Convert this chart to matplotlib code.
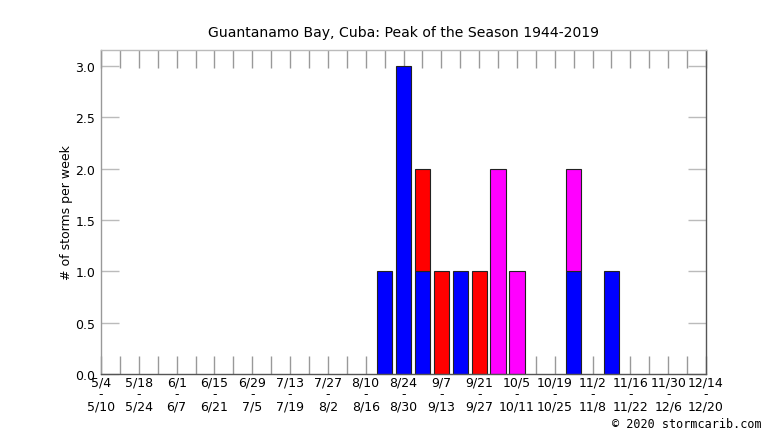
import matplotlib
matplotlib.use('Agg')
import matplotlib.pyplot as plt
import numpy as np

# week starts / ends, 5/4 .. 12/14
week_start = ['5/4', '5/11', '5/18', '5/25', '6/1', '6/8', '6/15', '6/22', '6/29', '7/6',
              '7/13', '7/20', '7/27', '8/3', '8/10', '8/17', '8/24', '8/31', '9/7', '9/14',
              '9/21', '9/28', '10/5', '10/12', '10/19', '10/26', '11/2', '11/9', '11/16',
              '11/23', '11/30', '12/7', '12/14']
week_end = ['5/10', '5/17', '5/24', '5/31', '6/7', '6/14', '6/21', '6/28', '7/5', '7/12',
            '7/19', '7/26', '8/2', '8/9', '8/16', '8/23', '8/30', '9/6', '9/13', '9/20',
            '9/27', '10/4', '10/11', '10/18', '10/25', '11/1', '11/8', '11/15', '11/22',
            '11/29', '12/6', '12/13', '12/20']

blue = [0, 0, 0, 0, 0, 0, 0, 0, 0, 0, 0, 0, 0, 0, 0, 1, 3, 1, 0, 1,
        0, 0, 0, 0, 0, 1, 0, 1, 0, 0, 0, 0, 0]
red = [0, 0, 0, 0, 0, 0, 0, 0, 0, 0, 0, 0, 0, 0, 0, 0, 0, 1, 1, 0,
       1, 0, 0, 0, 0, 0, 0, 0, 0, 0, 0, 0, 0]
magenta = [0, 0, 0, 0, 0, 0, 0, 0, 0, 0, 0, 0, 0, 0, 0, 0, 0, 0, 0, 0,
           0, 2, 1, 0, 0, 1, 0, 0, 0, 0, 0, 0, 0]

x = np.arange(len(week_start))
blue = np.array(blue)
red = np.array(red)
magenta = np.array(magenta)

fig = plt.figure(figsize=(7.66, 4.31), dpi=100)
ax = fig.add_axes([101 / 766, 56 / 431, 605 / 766, 324 / 431])

for vals, bottom, col in [(blue, np.zeros_like(blue), '#0000ff'), (red, blue, '#ff0000'),
                          (magenta, blue + red, '#ff00ff')]:
    m = vals > 0
    ax.bar(x[m], vals[m], bottom=bottom[m], width=0.8,
           color=col, edgecolor='#222222', linewidth=0.8, zorder=2)

ax.set_xlim(0, 32)
ax.set_ylim(0, 3.155)

labels = [f'{s}\n-\n{e}' if i % 2 == 0 else '' for i, (s, e) in enumerate(zip(week_start, week_end))]
ax.set_xticks(x)
ax.set_xticklabels(labels, fontsize=9, linespacing=0.9)
yt = np.arange(0, 3.01, 0.5)
ax.set_yticks(yt)
ax.set_yticklabels([f'{v:.1f}' for v in yt], fontsize=9)

ax.tick_params(axis='x', direction='in', length=13, width=1, color='#999999',
               top=True, bottom=True, pad=1)
ax.tick_params(axis='y', direction='in', length=13, width=1, color='#bbbbbb',
               left=True, right=True, pad=4)
# top y tick is drawn darker in the original
top_tick = ax.yaxis.get_major_ticks()[-1]
top_tick.tick1line.set_color('#444444')
top_tick.tick2line.set_color('#444444')

ax.spines['left'].set_color('#999999')
ax.spines['top'].set_color('#bbbbbb')
ax.spines['right'].set_color('#555555')
ax.spines['bottom'].set_color('#555555')
for s in ax.spines.values():
    s.set_linewidth(1)

ax.set_ylabel('# of storms per week', fontsize=9, labelpad=2)
ax.set_title('Guantanamo Bay, Cuba: Peak of the Season 1944-2019', fontsize=10.1, pad=10)

fig.text(762 / 766, 6 / 431, '\u00a9 2020 stormcarib.com', ha='right', va='center',
         fontsize=8.5, family='DejaVu Sans Mono')

fig.savefig('out.png', dpi=100)
